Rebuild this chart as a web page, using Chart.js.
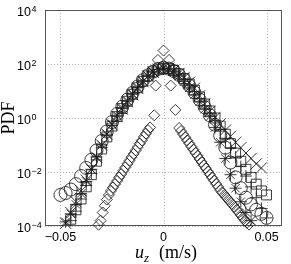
<!DOCTYPE html>
<html>
<head>
<meta charset="utf-8">
<script src="https://cdn.jsdelivr.net/npm/chart.js@4.4.1/dist/chart.umd.min.js"></script>
<style>
  html, body { margin: 0; padding: 0; background: #fff; }
  #pdfChart { display: block; }
</style>
</head>
<body>
<canvas id="pdfChart" width="291" height="264"></canvas>
<script>
// bin centres of the five wide distributions (m/s)
var uz = [-0.05, -0.0475, -0.045, -0.0425, -0.04, -0.0375, -0.035, -0.0325, -0.03, -0.0275,
          -0.025, -0.0225, -0.02, -0.0175, -0.015, -0.0125, -0.01, -0.0075, -0.005, -0.0025,
          0, 0.0025, 0.005, 0.0075, 0.01, 0.0125, 0.015, 0.0175, 0.02, 0.0225,
          0.025, 0.0275, 0.03, 0.0325, 0.035, 0.0375, 0.04, 0.0425, 0.045, 0.0475, 0.05];

// log10 of the PDF (null = no marker)
var circleLog = [-2.85, -2.78, -2.65, -2.45, -2.15, -1.85, -1.55, -1.2, -0.85, -0.5,
                 -0.15, 0.15, 0.42, 0.68, 0.93, 1.17, 1.4, 1.58, 1.72, 1.82,
                 1.86, 1.83, 1.74, 1.6, 1.42, 1.2, 0.95, 0.68, 0.4, 0.1,
                 -0.25, -0.65, -1.1, -1.65, -2.2, -2.6, -2.95, -3.2, -3.4, -3.55, -3.7];
var xLog = [null, -3.9, -3.5, -3.1, -2.7, -2.3, -1.9, -1.45, -1.0, -0.6,
            -0.25, 0.05, 0.33, 0.6, 0.86, 1.1, 1.35, 1.55, 1.7, 1.8,
            1.85, 1.84, 1.77, 1.65, 1.5, 1.32, 1.1, 0.82, 0.52, 0.25,
            0.02, -0.22, -0.45, -0.68, -0.9, -1.1, -1.3, -1.5, -1.7, -1.85, null];
var plusLog = [null, null, -3.8, -3.45, -3.0, -2.5, -2.05, -1.55, -1.1, -0.65,
               -0.28, 0.05, 0.35, 0.62, 0.88, 1.12, 1.36, 1.56, 1.7, 1.8,
               1.84, 1.82, 1.74, 1.6, 1.43, 1.22, 0.98, 0.72, 0.45, 0.18,
               -0.1, -0.42, -0.75, -1.1, -1.45, -1.8, -2.15, -2.55, -2.95, -3.35, -3.7];
var starLog = [null, -3.85, -3.55, -3.2, -2.8, -2.35, -1.9, -1.45, -1.0, -0.6,
               -0.22, 0.1, 0.38, 0.64, 0.9, 1.14, 1.37, 1.56, 1.71, 1.81,
               1.85, 1.81, 1.71, 1.55, 1.35, 1.12, 0.86, 0.6, 0.33, 0.05,
               -0.35, -0.9, -1.5, -2.1, -2.6, -3.1, -3.5, -3.8, null, null, null];
var squareLog = [null, null, -3.75, -3.4, -3.0, -2.55, -2.1, -1.6, -1.15, -0.7,
                 -0.3, 0.05, 0.35, 0.62, 0.88, 1.12, 1.36, 1.56, 1.71, 1.81,
                 1.85, 1.83, 1.76, 1.63, 1.46, 1.26, 1.03, 0.78, 0.52, 0.26,
                 0.0, -0.3, -0.6, -0.95, -1.3, -1.6, -1.9, -2.2, -2.45, -2.7, -2.85];

// the narrow distribution has its own bins
var uzNarrow = [-0.0315, -0.0305, -0.0295, -0.0285, -0.0275, -0.0265, -0.0255, -0.0245, -0.0235, -0.0225,
                -0.0215, -0.0205, -0.0195, -0.0185, -0.0175, -0.0165, -0.0155, -0.0145, -0.0135, -0.0125,
                -0.0115, -0.0105, -0.0095, -0.0085, -0.0075, -0.0065, -0.0045, -0.0038, -0.0027, 0,
                0.0027, 0.0035, 0.0058, 0.0076, 0.0085, 0.0095, 0.0105, 0.0115, 0.0125, 0.0135,
                0.0145, 0.0155, 0.0165, 0.0175, 0.0185, 0.0195, 0.0205, 0.0215, 0.0225, 0.0235,
                0.0245, 0.0255, 0.0265, 0.0275, 0.0285, 0.0295, 0.0305, 0.0315, 0.0325, 0.0335,
                0.0345, 0.0355, 0.0365, 0.0375, 0.0385, 0.0395, 0.0405, 0.0415];
var diamondLog = [-3.95, -3.8, -3.5, -3.25, -3.02, -2.85, -2.7, -2.57, -2.45, -2.33,
                  -2.2, -2.08, -1.95, -1.83, -1.7, -1.58, -1.45, -1.33, -1.2, -1.08,
                  -0.95, -0.83, -0.7, -0.58, -0.45, -0.35, 0.1, 1.2, 2.15, 2.5,
                  2.15, 1.2, 0.3, -0.37, -0.48, -0.6, -0.71, -0.83, -0.94, -1.06,
                  -1.17, -1.29, -1.4, -1.52, -1.63, -1.75, -1.86, -1.98, -2.09, -2.21,
                  -2.32, -2.44, -2.55, -2.67, -2.76, -2.85, -2.94, -3.03, -3.12, -3.21,
                  -3.3, -3.4, -3.5, -3.6, -3.7, -3.8, -3.88, -3.95];

var xTicks = [-0.05, 0, 0.05];
var xTickLabels = ['\u22120.05', '0', '0.05'];
var yTicks = [1e-4, 1e-2, 1, 1e2, 1e4];
var yTickExponents = ['\u22124', '\u22122', '0', '2', '4'];

function points(xs, logs) {
  var out = [];
  for (var i = 0; i < xs.length; i++) {
    if (logs[i] !== null) out.push({ x: xs[i], y: Math.pow(10, logs[i]) });
  }
  return out;
}

var ink = 'rgba(30,30,30,0.85)';
function series(label, xs, logs, style, r) {
  return {
    label: label,
    data: points(xs, logs),
    pointStyle: style,
    pointRadius: r,
    borderColor: ink,
    backgroundColor: 'rgba(0,0,0,0)',
    borderWidth: 1,
    showLine: false,
    clip: false
  };
}

var sans = '"Liberation Sans", Arial, "DejaVu Sans", sans-serif';
var serif = '"Liberation Serif", "Times New Roman", serif';

// dotted grid, box round the axes, 10^n labels and the two axis titles
var frame = {
  id: 'frame',
  beforeDatasetsDraw: function (chart) {
    var a = chart.chartArea, ctx = chart.ctx;
    var xs = chart.scales.x, ys = chart.scales.y;
    ctx.save();
    ctx.strokeStyle = '#b4b4b4';
    ctx.lineWidth = 1;
    ctx.setLineDash([1, 2]);
    ctx.beginPath();
    xTicks.forEach(function (v) {
      var px = Math.round(xs.getPixelForValue(v)) + 0.5;
      ctx.moveTo(px, a.top); ctx.lineTo(px, a.bottom);
    });
    yTicks.forEach(function (v) {
      var py = Math.round(ys.getPixelForValue(v)) + 0.5;
      ctx.moveTo(a.left, py); ctx.lineTo(a.right, py);
    });
    ctx.stroke();
    ctx.setLineDash([]);
    ctx.strokeStyle = '#555';
    ctx.strokeRect(a.left + 0.5, a.top + 0.5, a.right - a.left - 1, a.bottom - a.top - 1);
    ctx.restore();
  },
  afterDraw: function (chart) {
    var ctx = chart.ctx, ys = chart.scales.y;
    ctx.save();
    ctx.fillStyle = '#000';
    ctx.textBaseline = 'alphabetic';
    ctx.textAlign = 'left';
    yTicks.forEach(function (v, i) {
      var base = ys.getPixelForValue(v) + 6;
      ctx.font = '12.5px ' + sans;
      ctx.fillText('10', 17, base);
      var w = ctx.measureText('10').width;
      ctx.font = '9px ' + sans;
      ctx.fillText(yTickExponents[i], 17 + w + 0.5, base - 4.5);
    });
    ctx.restore();

    ctx.save();
    ctx.fillStyle = '#000';
    ctx.translate(9, 118);
    ctx.rotate(-Math.PI / 2);
    ctx.font = '18px ' + serif;
    ctx.textAlign = 'center';
    ctx.textBaseline = 'middle';
    ctx.fillText('PDF', 0, 0);
    ctx.restore();

    ctx.save();
    ctx.fillStyle = '#000';
    ctx.textBaseline = 'alphabetic';
    var fu = 'italic 18px ' + serif;
    var fz = 'italic 13px ' + serif;
    var fr = '18px ' + serif;
    var rest = '\u2002(m/s)';
    ctx.font = fu; var wu = ctx.measureText('u').width;
    ctx.font = fz; var wz = ctx.measureText('z').width;
    ctx.font = fr; var wr = ctx.measureText(rest).width;
    var x = 166 - (wu + wz + 1 + wr) / 2, base = 257.5;
    ctx.font = fu; ctx.fillText('u', x, base); x += wu;
    ctx.font = fz; ctx.fillText('z', x, base + 4); x += wz + 1;
    ctx.font = fr; ctx.fillText(rest, x, base);
    ctx.restore();
  }
};

new Chart(document.getElementById('pdfChart').getContext('2d'), {
  type: 'scatter',
  data: {
    datasets: [
      series('o', uz, circleLog, 'circle', 6.5),
      series('x', uz, xLog, 'crossRot', 8),
      series('+', uz, plusLog, 'cross', 6),
      series('*', uz, starLog, 'star', 6),
      series('s', uz, squareLog, 'rect', 7),
      series('d', uzNarrow, diamondLog, 'rectRot', 5.5)
    ]
  },
  plugins: [frame],
  options: {
    responsive: false,
    animation: false,
    events: [],
    layout: { padding: { left: 17, top: 10, right: 2, bottom: 0 } },
    plugins: { legend: { display: false }, tooltip: { enabled: false } },
    scales: {
      x: {
        type: 'linear',
        min: -0.0575,
        max: 0.0575,
        afterBuildTicks: function (scale) {
          scale.ticks = xTicks.map(function (v) { return { value: v }; });
        },
        afterFit: function (scale) { scale.height = 38; },
        ticks: {
          color: '#000',
          font: { family: sans, size: 12.5 },
          padding: 4,
          maxRotation: 0,
          callback: function (v, i) { return xTickLabels[i]; }
        },
        grid: { display: false, drawTicks: false },
        border: { display: false }
      },
      y: {
        type: 'logarithmic',
        min: 1e-4,
        max: 1e4,
        afterBuildTicks: function (scale) {
          scale.ticks = yTicks.map(function (v) { return { value: v }; });
        },
        afterFit: function (scale) { scale.width = 28; },
        ticks: { display: false },
        grid: { display: false, drawTicks: false },
        border: { display: false }
      }
    }
  }
});
</script>
</body>
</html>
